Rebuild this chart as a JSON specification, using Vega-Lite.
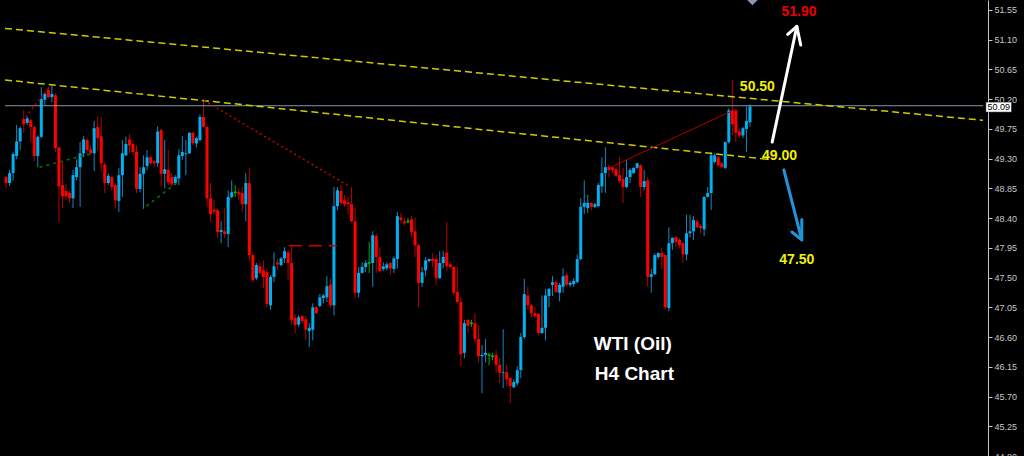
{
"$schema":"https://vega.github.io/schema/vega-lite/v6.json",
"width":988,"height":456,"autosize":"none",
"padding":{"left":0,"top":0,"right":36,"bottom":0},
"background":"#000000",
"config":{"view":{"stroke":null}},
"resolve":{"axis":{"x":"independent","y":"independent"}},
"datasets":{
"candles":[
{"t":1,"open":49.02,"high":49.04,"low":48.85,"close":48.93},
{"t":2,"open":48.93,"high":49.13,"low":48.88,"close":49.08},
{"t":3,"open":49.08,"high":49.40,"low":48.97,"close":49.37},
{"t":4,"open":49.34,"high":49.81,"low":49.29,"close":49.56},
{"t":5,"open":49.56,"high":49.79,"low":49.43,"close":49.76},
{"t":6,"open":49.90,"high":50.03,"low":49.69,"close":49.82},
{"t":7,"open":49.84,"high":49.93,"low":49.81,"close":49.91},
{"t":8,"open":49.88,"high":49.91,"low":49.55,"close":49.78},
{"t":9,"open":49.78,"high":49.79,"low":49.26,"close":49.34},
{"t":10,"open":49.34,"high":49.65,"low":49.17,"close":49.63},
{"t":11,"open":49.63,"high":50.38,"low":49.61,"close":50.20},
{"t":12,"open":50.19,"high":50.29,"low":50.11,"close":50.28},
{"t":13,"open":50.34,"high":50.39,"low":50.21,"close":50.23},
{"t":14,"open":50.23,"high":50.41,"low":50.15,"close":50.28},
{"t":15,"open":50.26,"high":50.29,"low":49.40,"close":49.46},
{"t":16,"open":49.47,"high":49.48,"low":48.34,"close":48.88},
{"t":17,"open":48.90,"high":49.25,"low":48.55,"close":48.73},
{"t":18,"open":48.81,"high":48.91,"low":48.67,"close":48.73},
{"t":19,"open":48.78,"high":48.82,"low":48.63,"close":48.70},
{"t":20,"open":48.70,"high":49.13,"low":48.55,"close":49.05},
{"t":21,"open":49.02,"high":49.29,"low":48.97,"close":49.17},
{"t":22,"open":49.17,"high":49.55,"low":48.57,"close":49.38},
{"t":23,"open":49.38,"high":49.64,"low":49.32,"close":49.59},
{"t":24,"open":49.58,"high":49.61,"low":49.38,"close":49.43},
{"t":25,"open":49.44,"high":49.50,"low":49.35,"close":49.38},
{"t":26,"open":49.38,"high":49.87,"low":49.11,"close":49.76},
{"t":27,"open":49.78,"high":49.94,"low":49.43,"close":49.61},
{"t":28,"open":49.64,"high":49.93,"low":49.10,"close":49.23},
{"t":29,"open":49.21,"high":49.25,"low":48.78,"close":48.93},
{"t":30,"open":48.93,"high":49.08,"low":48.90,"close":49.04},
{"t":31,"open":49.02,"high":49.04,"low":48.82,"close":48.87},
{"t":32,"open":48.90,"high":48.93,"low":48.55,"close":48.67},
{"t":33,"open":48.66,"high":49.16,"low":48.49,"close":49.05},
{"t":34,"open":49.05,"high":49.58,"low":48.72,"close":49.38},
{"t":35,"open":49.35,"high":49.63,"low":49.34,"close":49.52},
{"t":36,"open":49.59,"high":49.67,"low":49.38,"close":49.50},
{"t":37,"open":49.52,"high":49.58,"low":49.35,"close":49.40},
{"t":38,"open":49.40,"high":49.50,"low":48.78,"close":48.84},
{"t":39,"open":48.84,"high":49.17,"low":48.79,"close":49.07},
{"t":40,"open":49.07,"high":49.35,"low":48.54,"close":49.17},
{"t":41,"open":49.19,"high":49.43,"low":49.13,"close":49.32},
{"t":42,"open":49.32,"high":49.34,"low":49.21,"close":49.23},
{"t":43,"open":49.26,"high":49.28,"low":49.17,"close":49.23},
{"t":44,"open":49.23,"high":49.79,"low":49.17,"close":49.71},
{"t":45,"open":49.73,"high":49.75,"low":48.88,"close":49.07},
{"t":46,"open":49.07,"high":49.58,"low":48.85,"close":49.14},
{"t":47,"open":49.13,"high":49.43,"low":48.90,"close":48.94},
{"t":48,"open":49.02,"high":49.08,"low":48.88,"close":48.91},
{"t":49,"open":48.93,"high":49.05,"low":48.90,"close":49.02},
{"t":50,"open":49.00,"high":49.44,"low":48.90,"close":49.35},
{"t":51,"open":49.34,"high":49.64,"low":49.28,"close":49.40},
{"t":52,"open":49.37,"high":49.58,"low":49.05,"close":49.38},
{"t":53,"open":49.38,"high":49.70,"low":49.37,"close":49.69},
{"t":54,"open":49.69,"high":49.70,"low":49.50,"close":49.53},
{"t":55,"open":49.53,"high":49.63,"low":49.47,"close":49.61},
{"t":56,"open":49.58,"high":49.97,"low":49.56,"close":49.93},
{"t":57,"open":49.93,"high":50.20,"low":49.77,"close":49.78},
{"t":58,"open":49.78,"high":49.79,"low":48.57,"close":48.70},
{"t":59,"open":48.70,"high":48.93,"low":48.34,"close":48.46},
{"t":60,"open":48.53,"high":48.67,"low":48.45,"close":48.50},
{"t":61,"open":48.52,"high":48.54,"low":48.10,"close":48.19},
{"t":62,"open":48.19,"high":48.35,"low":48.02,"close":48.22},
{"t":63,"open":48.20,"high":48.55,"low":48.10,"close":48.16},
{"t":64,"open":48.16,"high":48.82,"low":47.96,"close":48.72},
{"t":65,"open":48.72,"high":48.97,"low":48.70,"close":48.79},
{"t":66,"open":48.79,"high":48.90,"low":48.72,"close":48.79},
{"t":67,"open":48.79,"high":48.85,"low":48.67,"close":48.76},
{"t":68,"open":48.78,"high":48.87,"low":48.50,"close":48.61},
{"t":69,"open":48.61,"high":49.08,"low":48.35,"close":48.93},
{"t":70,"open":48.93,"high":49.16,"low":47.76,"close":47.84},
{"t":71,"open":47.84,"high":47.88,"low":47.43,"close":47.46},
{"t":72,"open":47.49,"high":47.72,"low":47.46,"close":47.69},
{"t":73,"open":47.67,"high":47.72,"low":47.55,"close":47.57},
{"t":74,"open":47.61,"high":47.76,"low":47.34,"close":47.51},
{"t":75,"open":47.58,"high":47.63,"low":47.05,"close":47.10},
{"t":76,"open":47.08,"high":47.54,"low":47.01,"close":47.51},
{"t":77,"open":47.51,"high":47.88,"low":47.43,"close":47.67},
{"t":78,"open":47.73,"high":47.78,"low":47.61,"close":47.70},
{"t":79,"open":47.69,"high":47.81,"low":47.67,"close":47.79},
{"t":80,"open":47.79,"high":47.96,"low":47.72,"close":47.90},
{"t":81,"open":47.88,"high":47.92,"low":47.46,"close":47.72},
{"t":82,"open":47.72,"high":47.98,"low":46.78,"close":46.86},
{"t":83,"open":46.89,"high":46.95,"low":46.66,"close":46.78},
{"t":84,"open":46.79,"high":46.93,"low":46.75,"close":46.90},
{"t":85,"open":46.92,"high":46.93,"low":46.81,"close":46.84},
{"t":86,"open":46.87,"high":46.92,"low":46.55,"close":46.71},
{"t":87,"open":46.69,"high":46.81,"low":46.45,"close":46.74},
{"t":88,"open":46.71,"high":47.11,"low":46.55,"close":47.05},
{"t":89,"open":47.05,"high":47.07,"low":46.95,"close":46.96},
{"t":90,"open":47.07,"high":47.25,"low":47.05,"close":47.20},
{"t":91,"open":47.19,"high":47.25,"low":47.11,"close":47.23},
{"t":92,"open":47.20,"high":47.52,"low":47.13,"close":47.37},
{"t":93,"open":47.39,"high":47.49,"low":47.04,"close":47.08},
{"t":94,"open":47.08,"high":48.87,"low":46.93,"close":48.58},
{"t":95,"open":48.58,"high":48.87,"low":48.52,"close":48.82},
{"t":96,"open":48.81,"high":48.90,"low":48.60,"close":48.63},
{"t":97,"open":48.67,"high":48.75,"low":48.57,"close":48.61},
{"t":98,"open":48.64,"high":48.72,"low":48.46,"close":48.61},
{"t":99,"open":48.61,"high":48.87,"low":48.34,"close":48.35},
{"t":100,"open":48.35,"high":48.55,"low":47.20,"close":47.27},
{"t":101,"open":47.27,"high":47.66,"low":47.20,"close":47.57},
{"t":102,"open":47.57,"high":47.73,"low":47.56,"close":47.66},
{"t":103,"open":47.66,"high":47.76,"low":47.58,"close":47.72},
{"t":104,"open":47.72,"high":48.04,"low":47.57,"close":47.72},
{"t":105,"open":47.72,"high":48.20,"low":47.36,"close":48.14},
{"t":106,"open":48.13,"high":48.17,"low":47.57,"close":47.81},
{"t":107,"open":47.81,"high":47.96,"low":47.58,"close":47.60},
{"t":108,"open":47.63,"high":47.73,"low":47.60,"close":47.67},
{"t":109,"open":47.64,"high":47.73,"low":47.61,"close":47.70},
{"t":110,"open":47.72,"high":47.73,"low":47.54,"close":47.64},
{"t":111,"open":47.63,"high":47.82,"low":47.57,"close":47.79},
{"t":112,"open":47.78,"high":48.49,"low":47.64,"close":48.43},
{"t":113,"open":48.41,"high":48.48,"low":48.32,"close":48.37},
{"t":114,"open":48.35,"high":48.40,"low":48.29,"close":48.32},
{"t":115,"open":48.35,"high":48.40,"low":48.32,"close":48.35},
{"t":116,"open":48.38,"high":48.43,"low":48.11,"close":48.19},
{"t":117,"open":48.20,"high":48.41,"low":47.81,"close":47.99},
{"t":118,"open":47.99,"high":48.01,"low":47.05,"close":47.42},
{"t":119,"open":47.42,"high":47.66,"low":47.36,"close":47.58},
{"t":120,"open":47.61,"high":47.81,"low":47.52,"close":47.76},
{"t":121,"open":47.75,"high":47.79,"low":47.73,"close":47.78},
{"t":122,"open":47.78,"high":47.87,"low":47.66,"close":47.75},
{"t":123,"open":47.78,"high":47.84,"low":47.39,"close":47.49},
{"t":124,"open":47.49,"high":47.90,"low":47.48,"close":47.72},
{"t":125,"open":47.72,"high":47.90,"low":47.64,"close":47.81},
{"t":126,"open":47.88,"high":48.34,"low":47.60,"close":47.67},
{"t":127,"open":47.70,"high":47.73,"low":47.64,"close":47.66},
{"t":128,"open":47.66,"high":47.67,"low":47.23,"close":47.27},
{"t":129,"open":47.28,"high":47.66,"low":47.11,"close":47.13},
{"t":130,"open":47.13,"high":47.20,"low":46.15,"close":46.34},
{"t":131,"open":46.36,"high":46.86,"low":46.28,"close":46.81},
{"t":132,"open":46.86,"high":46.87,"low":46.67,"close":46.77},
{"t":133,"open":46.81,"high":46.86,"low":46.75,"close":46.81},
{"t":134,"open":46.81,"high":46.96,"low":46.52,"close":46.57},
{"t":135,"open":46.57,"high":46.78,"low":46.22,"close":46.31},
{"t":136,"open":46.31,"high":46.48,"low":45.75,"close":46.33},
{"t":137,"open":46.33,"high":46.57,"low":46.21,"close":46.36},
{"t":138,"open":46.33,"high":46.36,"low":46.17,"close":46.33},
{"t":139,"open":46.31,"high":46.36,"low":46.25,"close":46.31},
{"t":140,"open":46.33,"high":46.40,"low":46.06,"close":46.18},
{"t":141,"open":46.18,"high":46.28,"low":45.90,"close":46.06},
{"t":142,"open":46.06,"high":46.72,"low":45.83,"close":46.07},
{"t":143,"open":46.07,"high":46.18,"low":45.86,"close":45.96},
{"t":144,"open":45.98,"high":45.99,"low":45.60,"close":45.86},
{"t":145,"open":45.84,"high":45.96,"low":45.83,"close":45.92},
{"t":146,"open":45.90,"high":46.16,"low":45.87,"close":46.10},
{"t":147,"open":46.10,"high":46.66,"low":45.98,"close":46.60},
{"t":148,"open":46.60,"high":47.48,"low":46.57,"close":47.25},
{"t":149,"open":47.23,"high":47.36,"low":47.01,"close":47.08},
{"t":150,"open":47.08,"high":47.10,"low":46.89,"close":46.96},
{"t":151,"open":46.96,"high":47.05,"low":46.89,"close":46.92},
{"t":152,"open":46.95,"high":46.96,"low":46.63,"close":46.66},
{"t":153,"open":46.66,"high":47.23,"low":46.65,"close":46.74},
{"t":154,"open":46.74,"high":47.33,"low":46.55,"close":47.23},
{"t":155,"open":47.22,"high":47.34,"low":47.05,"close":47.33},
{"t":156,"open":47.39,"high":47.52,"low":47.22,"close":47.43},
{"t":157,"open":47.43,"high":47.46,"low":47.27,"close":47.28},
{"t":158,"open":47.27,"high":47.42,"low":47.14,"close":47.39},
{"t":159,"open":47.36,"high":47.64,"low":47.27,"close":47.52},
{"t":160,"open":47.54,"high":47.57,"low":47.36,"close":47.39},
{"t":161,"open":47.39,"high":47.45,"low":47.36,"close":47.42},
{"t":162,"open":47.40,"high":47.49,"low":47.36,"close":47.45},
{"t":163,"open":47.43,"high":47.85,"low":47.42,"close":47.78},
{"t":164,"open":47.78,"high":48.70,"low":47.76,"close":48.57},
{"t":165,"open":48.57,"high":48.97,"low":48.46,"close":48.63},
{"t":166,"open":48.55,"high":48.75,"low":48.48,"close":48.63},
{"t":167,"open":48.63,"high":48.64,"low":48.52,"close":48.57},
{"t":168,"open":48.57,"high":48.63,"low":48.55,"close":48.61},
{"t":169,"open":48.58,"high":48.93,"low":48.57,"close":48.90},
{"t":170,"open":48.88,"high":49.32,"low":48.78,"close":49.08},
{"t":171,"open":49.08,"high":49.47,"low":48.78,"close":49.17},
{"t":172,"open":49.17,"high":49.21,"low":49.02,"close":49.13},
{"t":173,"open":49.17,"high":49.17,"low":49.08,"close":49.13},
{"t":174,"open":49.14,"high":49.17,"low":49.02,"close":49.04},
{"t":175,"open":49.05,"high":49.32,"low":48.93,"close":48.96},
{"t":176,"open":48.99,"high":49.16,"low":48.63,"close":48.87},
{"t":177,"open":48.87,"high":49.28,"low":48.85,"close":49.02},
{"t":178,"open":49.02,"high":49.16,"low":48.93,"close":49.13},
{"t":179,"open":49.08,"high":49.17,"low":49.07,"close":49.16},
{"t":180,"open":49.16,"high":49.23,"low":49.14,"close":49.23},
{"t":181,"open":49.20,"high":49.21,"low":48.72,"close":48.87},
{"t":182,"open":48.87,"high":49.13,"low":48.82,"close":48.96},
{"t":183,"open":48.97,"high":49.02,"low":47.36,"close":47.51},
{"t":184,"open":47.51,"high":47.63,"low":47.27,"close":47.55},
{"t":185,"open":47.55,"high":47.87,"low":47.54,"close":47.84},
{"t":186,"open":47.81,"high":47.88,"low":47.78,"close":47.87},
{"t":187,"open":47.87,"high":47.95,"low":47.63,"close":47.81},
{"t":188,"open":47.84,"high":47.85,"low":47.02,"close":47.05},
{"t":189,"open":47.04,"high":48.26,"low":46.99,"close":48.02},
{"t":190,"open":48.02,"high":48.11,"low":47.92,"close":48.10},
{"t":191,"open":48.11,"high":48.13,"low":47.96,"close":48.04},
{"t":192,"open":48.07,"high":48.10,"low":47.95,"close":47.99},
{"t":193,"open":48.02,"high":48.04,"low":47.72,"close":47.85},
{"t":194,"open":47.85,"high":48.45,"low":47.76,"close":48.17},
{"t":195,"open":48.17,"high":48.45,"low":48.11,"close":48.20},
{"t":196,"open":48.20,"high":48.43,"low":48.07,"close":48.37},
{"t":197,"open":48.35,"high":48.38,"low":48.25,"close":48.26},
{"t":198,"open":48.28,"high":48.31,"low":48.17,"close":48.25},
{"t":199,"open":48.23,"high":48.73,"low":48.13,"close":48.72},
{"t":200,"open":48.72,"high":48.87,"low":48.71,"close":48.78},
{"t":201,"open":48.78,"high":49.40,"low":48.52,"close":49.35},
{"t":202,"open":49.25,"high":49.38,"low":49.23,"close":49.35},
{"t":203,"open":49.32,"high":49.34,"low":49.17,"close":49.20},
{"t":204,"open":49.23,"high":49.25,"low":49.16,"close":49.17},
{"t":205,"open":49.16,"high":49.56,"low":49.14,"close":49.55},
{"t":206,"open":49.55,"high":50.06,"low":49.53,"close":50.03},
{"t":207,"open":50.03,"high":50.49,"low":49.65,"close":49.82},
{"t":208,"open":50.03,"high":50.05,"low":49.55,"close":49.69},
{"t":209,"open":49.71,"high":49.76,"low":49.61,"close":49.65},
{"t":210,"open":49.65,"high":49.78,"low":49.61,"close":49.76},
{"t":211,"open":49.75,"high":50.09,"low":49.40,"close":49.87},
{"t":212,"open":49.85,"high":50.12,"low":49.78,"close":50.09}
],
"ann":[
{"id":"cur","k":0,"t":0.7,"p":50.10},{"id":"cur","k":1,"t":278.1,"p":50.10},
{"id":"upper","k":0,"t":0.7,"p":51.27},{"id":"upper","k":1,"t":278.1,"p":49.88},
{"id":"lower","k":0,"t":0.7,"p":50.49},{"id":"lower","k":1,"t":216.9,"p":49.29},
{"id":"rd1","k":0,"t":6.6,"p":49.93},{"id":"rd1","k":1,"t":13.05,"p":50.37},
{"id":"rd2","k":0,"t":57.1,"p":50.18},{"id":"rd2","k":1,"t":98.4,"p":48.88},
{"id":"rd3","k":0,"t":81.2,"p":47.98},{"id":"rd3","k":1,"t":94.8,"p":47.98},
{"id":"rs","k":0,"t":172.5,"p":49.17},{"id":"rs","k":1,"t":206.8,"p":50.02},
{"id":"g1","k":0,"t":10.5,"p":49.17},{"id":"g1","k":1,"t":25.5,"p":49.38},
{"id":"g2","k":0,"t":40.8,"p":48.58},{"id":"g2","k":1,"t":49.3,"p":48.93},
{"id":"wa_s","k":0,"t":218.3,"p":49.55},{"id":"wa_s","k":1,"t":225.3,"p":51.30},
{"id":"wa_h","k":0,"t":222.7,"p":51.18},{"id":"wa_h","k":1,"t":225.3,"p":51.30},{"id":"wa_h","k":2,"t":226.4,"p":51.02},
{"id":"ba_s","k":0,"t":221.6,"p":49.13},{"id":"ba_s","k":1,"t":226.7,"p":48.07},
{"id":"ba_h","k":0,"t":223.9,"p":48.19},{"id":"ba_h","k":1,"t":226.7,"p":48.07},{"id":"ba_h","k":2,"t":226.7,"p":48.38}
]
},
"layer":[
{"data":{"name":"candles"},
 "mark":{"type":"rule","strokeWidth":1},
 "encoding":{
  "x":{"field":"t","type":"quantitative","scale":{"domain":[0.7,278.1],"nice":false,"zero":false},"axis":null},
  "y":{"field":"low","type":"quantitative","scale":{"domain":[44.8,51.7],"nice":false,"zero":false},
       "axis":{"orient":"right","title":null,"grid":false,"values":[44.8,45.25,45.7,46.15,46.6,47.05,47.5,47.95,48.4,48.85,49.3,49.75,50.2,50.65,51.1,51.55],"format":".2f","labelColor":"#C8C8C8","labelFont":"Liberation Sans","labelFontSize":9,"labelPadding":2,"tickSize":4,"tickColor":"#C8C8C8","domainColor":"#C8C8C8","labelFlush":false,"labelOverlap":false,"labelBound":false}},
  "y2":{"field":"high"},
  "color":{"condition":[{"test":"datum.close > datum.open","value":"#1488C0"},{"test":"datum.close < datum.open","value":"#B80000"}],"value":"#00B000"}
 }},
{"data":{"name":"candles"},
 "mark":{"type":"bar","size":3},
 "encoding":{
  "x":{"field":"t","type":"quantitative","scale":{"domain":[0.7,278.1],"nice":false,"zero":false},"axis":null},
  "y":{"field":"open","type":"quantitative","scale":{"domain":[44.8,51.7],"nice":false,"zero":false},"axis":null},
  "y2":{"field":"close"},
  "color":{"condition":[{"test":"datum.close > datum.open","value":"#00B0F0"},{"test":"datum.close < datum.open","value":"#FF0000"}],"value":"#00C000"},
  "stroke":{"condition":{"test":"datum.close == datum.open","value":"#00C000"},"value":"#000000"},
  "strokeWidth":{"condition":{"test":"datum.close == datum.open","value":1.5},"value":0}
 }},
{"data":{"name":"ann"},"transform":[{"filter":"datum.id == 'cur'"}],
 "mark":{"type":"line","color":"#8595AC","strokeWidth":1},
 "encoding":{
  "x":{"field":"t","type":"quantitative","scale":{"domain":[0.7,278.1],"nice":false,"zero":false},"axis":null},
  "y":{"field":"p","type":"quantitative","scale":{"domain":[44.8,51.7],"nice":false,"zero":false},"axis":null},
  "detail":{"field":"id"},"order":{"field":"k"}}},
{"data":{"name":"ann"},"transform":[{"filter":"datum.id == 'upper' || datum.id == 'lower'"}],
 "mark":{"type":"line","color":"#CCCC00","strokeWidth":1.5,"strokeDash":[7,4]},
 "encoding":{
  "x":{"field":"t","type":"quantitative","scale":{"domain":[0.7,278.1],"nice":false,"zero":false},"axis":null},
  "y":{"field":"p","type":"quantitative","scale":{"domain":[44.8,51.7],"nice":false,"zero":false},"axis":null},
  "detail":{"field":"id"},"order":{"field":"k"}}},
{"data":{"name":"ann"},"transform":[{"filter":"datum.id == 'rd1' || datum.id == 'rd2'"}],
 "mark":{"type":"line","color":"#C00000","strokeWidth":1.5,"strokeDash":[2,3]},
 "encoding":{
  "x":{"field":"t","type":"quantitative","scale":{"domain":[0.7,278.1],"nice":false,"zero":false},"axis":null},
  "y":{"field":"p","type":"quantitative","scale":{"domain":[44.8,51.7],"nice":false,"zero":false},"axis":null},
  "detail":{"field":"id"},"order":{"field":"k"}}},
{"data":{"name":"ann"},"transform":[{"filter":"datum.id == 'rd3'"}],
 "mark":{"type":"line","color":"#D00000","strokeWidth":1.5,"strokeDash":[13,7]},
 "encoding":{
  "x":{"field":"t","type":"quantitative","scale":{"domain":[0.7,278.1],"nice":false,"zero":false},"axis":null},
  "y":{"field":"p","type":"quantitative","scale":{"domain":[44.8,51.7],"nice":false,"zero":false},"axis":null},
  "detail":{"field":"id"},"order":{"field":"k"}}},
{"data":{"name":"ann"},"transform":[{"filter":"datum.id == 'rs'"}],
 "mark":{"type":"line","color":"#B00000","strokeWidth":1},
 "encoding":{
  "x":{"field":"t","type":"quantitative","scale":{"domain":[0.7,278.1],"nice":false,"zero":false},"axis":null},
  "y":{"field":"p","type":"quantitative","scale":{"domain":[44.8,51.7],"nice":false,"zero":false},"axis":null},
  "detail":{"field":"id"},"order":{"field":"k"}}},
{"data":{"name":"ann"},"transform":[{"filter":"datum.id == 'g1' || datum.id == 'g2'"}],
 "mark":{"type":"line","color":"#007A00","strokeWidth":1.5,"strokeDash":[3,4]},
 "encoding":{
  "x":{"field":"t","type":"quantitative","scale":{"domain":[0.7,278.1],"nice":false,"zero":false},"axis":null},
  "y":{"field":"p","type":"quantitative","scale":{"domain":[44.8,51.7],"nice":false,"zero":false},"axis":null},
  "detail":{"field":"id"},"order":{"field":"k"}}},
{"data":{"name":"ann"},"transform":[{"filter":"datum.id == 'wa_s' || datum.id == 'wa_h'"}],
 "mark":{"type":"line","color":"#FFFFFF","strokeWidth":3,"strokeCap":"round","strokeJoin":"round"},
 "encoding":{
  "x":{"field":"t","type":"quantitative","scale":{"domain":[0.7,278.1],"nice":false,"zero":false},"axis":null},
  "y":{"field":"p","type":"quantitative","scale":{"domain":[44.8,51.7],"nice":false,"zero":false},"axis":null},
  "detail":{"field":"id"},"order":{"field":"k"}}},
{"data":{"name":"ann"},"transform":[{"filter":"datum.id == 'ba_s' || datum.id == 'ba_h'"}],
 "mark":{"type":"line","color":"#1E96D8","strokeWidth":3,"strokeCap":"round","strokeJoin":"round"},
 "encoding":{
  "x":{"field":"t","type":"quantitative","scale":{"domain":[0.7,278.1],"nice":false,"zero":false},"axis":null},
  "y":{"field":"p","type":"quantitative","scale":{"domain":[44.8,51.7],"nice":false,"zero":false},"axis":null},
  "detail":{"field":"id"},"order":{"field":"k"}}},
{"data":{"values":[{"t":214.1,"p":50.38,"label":"50.50"},{"t":220.4,"p":49.34,"label":"49.00"},{"t":225.3,"p":47.76,"label":"47.50"}]},
 "mark":{"type":"text","color":"#F0F000","font":"Liberation Sans","fontWeight":"bold","fontSize":14,"align":"center","baseline":"middle"},
 "encoding":{
  "x":{"field":"t","type":"quantitative","scale":{"domain":[0.7,278.1],"nice":false,"zero":false},"axis":null},
  "y":{"field":"p","type":"quantitative","scale":{"domain":[44.8,51.7],"nice":false,"zero":false},"axis":null},
  "text":{"field":"label"}}},
{"data":{"values":[{"t":225.9,"p":51.52,"label":"51.90"}]},
 "mark":{"type":"text","color":"#EE0000","font":"Liberation Sans","fontWeight":"bold","fontSize":14,"align":"center","baseline":"middle"},
 "encoding":{
  "x":{"field":"t","type":"quantitative","scale":{"domain":[0.7,278.1],"nice":false,"zero":false},"axis":null},
  "y":{"field":"p","type":"quantitative","scale":{"domain":[44.8,51.7],"nice":false,"zero":false},"axis":null},
  "text":{"field":"label"}}},
{"data":{"values":[{"t":167.7,"p":46.41,"label":"WTI (Oil)"},{"t":168.0,"p":45.95,"label":"H4 Chart"}]},
 "mark":{"type":"text","color":"#FFFFFF","font":"Liberation Sans","fontWeight":"bold","fontSize":19,"align":"left","baseline":"alphabetic"},
 "encoding":{
  "x":{"field":"t","type":"quantitative","scale":{"domain":[0.7,278.1],"nice":false,"zero":false},"axis":null},
  "y":{"field":"p","type":"quantitative","scale":{"domain":[44.8,51.7],"nice":false,"zero":false},"axis":null},
  "text":{"field":"label"}}},
{"data":{"values":[{"t":212.7,"p":51.70}]},
 "mark":{"type":"point","shape":"diamond","size":110,"filled":true,"color":"#8A9AB0","opacity":1},
 "encoding":{
  "x":{"field":"t","type":"quantitative","scale":{"domain":[0.7,278.1],"nice":false,"zero":false},"axis":null},
  "y":{"field":"p","type":"quantitative","scale":{"domain":[44.8,51.7],"nice":false,"zero":false},"axis":null}}},
{"data":{"values":[{"t":278.9,"t2":286.2,"p":50.003,"p2":50.155}]},
 "mark":{"type":"rect","color":"#FFFFFF","stroke":"#000000","strokeWidth":0.5},
 "encoding":{
  "x":{"field":"t","type":"quantitative","scale":{"domain":[0.7,278.1],"nice":false,"zero":false},"axis":null},
  "x2":{"field":"t2"},
  "y":{"field":"p","type":"quantitative","scale":{"domain":[44.8,51.7],"nice":false,"zero":false},"axis":null},
  "y2":{"field":"p2"}}},
{"data":{"values":[{"t":282.6,"p":50.08,"label":"50.09"}]},
 "mark":{"type":"text","color":"#000000","font":"Liberation Sans","fontSize":9,"align":"center","baseline":"middle"},
 "encoding":{
  "x":{"field":"t","type":"quantitative","scale":{"domain":[0.7,278.1],"nice":false,"zero":false},"axis":null},
  "y":{"field":"p","type":"quantitative","scale":{"domain":[44.8,51.7],"nice":false,"zero":false},"axis":null},
  "text":{"field":"label"}}}
]
}
